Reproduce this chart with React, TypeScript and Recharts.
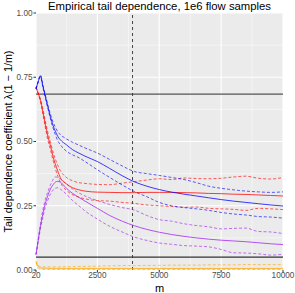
import React from 'react';
import {
  LineChart,
  Line,
  XAxis,
  YAxis,
  CartesianGrid,
  ReferenceLine,
  Label,
} from 'recharts';

// m values (sample size parameter)
const mValues = [20, 100, 200, 300, 400, 500, 600, 700, 800, 900, 1000, 1250, 1500, 1750, 2000, 2500, 3000, 3500, 4000, 4500, 5000, 5500, 6000, 6500, 7000, 7500, 8000, 8500, 9000, 9500, 10000];

const blueMid = [0.705, 0.73, 0.755, 0.715, 0.675, 0.635, 0.597, 0.565, 0.54, 0.52, 0.507, 0.487, 0.468, 0.455, 0.443, 0.422, 0.395, 0.367, 0.343, 0.326, 0.313, 0.303, 0.295, 0.288, 0.281, 0.274, 0.268, 0.263, 0.258, 0.253, 0.249];
const blueHi = [0.705, 0.733, 0.758, 0.72, 0.68, 0.642, 0.607, 0.578, 0.556, 0.538, 0.527, 0.51, 0.497, 0.486, 0.475, 0.455, 0.43, 0.405, 0.383, 0.375, 0.368, 0.36, 0.352, 0.34, 0.326, 0.318, 0.312, 0.307, 0.304, 0.302, 0.304];
const blueLo = [0.705, 0.727, 0.752, 0.71, 0.668, 0.628, 0.59, 0.555, 0.527, 0.503, 0.488, 0.462, 0.448, 0.437, 0.422, 0.39, 0.36, 0.331, 0.305, 0.285, 0.263, 0.25, 0.243, 0.238, 0.232, 0.224, 0.218, 0.214, 0.208, 0.206, 0.202];

const redMid = [0.711, 0.69, 0.66, 0.615, 0.565, 0.52, 0.485, 0.445, 0.412, 0.385, 0.36, 0.335, 0.32, 0.312, 0.307, 0.303, 0.302, 0.301, 0.301, 0.302, 0.302, 0.302, 0.301, 0.3, 0.298, 0.297, 0.295, 0.294, 0.292, 0.29, 0.288];
const redHi = [0.711, 0.692, 0.665, 0.625, 0.578, 0.535, 0.5, 0.462, 0.432, 0.407, 0.387, 0.36, 0.347, 0.34, 0.337, 0.333, 0.332, 0.338, 0.344, 0.35, 0.355, 0.352, 0.358, 0.356, 0.355, 0.357, 0.362, 0.365, 0.357, 0.354, 0.36];
const redLo = [0.711, 0.687, 0.655, 0.605, 0.553, 0.505, 0.47, 0.43, 0.395, 0.365, 0.342, 0.31, 0.293, 0.283, 0.277, 0.27, 0.268, 0.263, 0.259, 0.253, 0.25, 0.247, 0.244, 0.245, 0.24, 0.238, 0.236, 0.232, 0.24, 0.238, 0.235];

const purpleMid = [0.06, 0.11, 0.17, 0.22, 0.26, 0.29, 0.315, 0.33, 0.342, 0.345, 0.342, 0.318, 0.298, 0.283, 0.268, 0.24, 0.212, 0.19, 0.172, 0.158, 0.147, 0.138, 0.131, 0.125, 0.12, 0.116, 0.113, 0.11, 0.106, 0.102, 0.099];
const purpleHi = [0.06, 0.115, 0.18, 0.235, 0.275, 0.305, 0.33, 0.35, 0.362, 0.36, 0.355, 0.335, 0.315, 0.3, 0.288, 0.27, 0.255, 0.243, 0.233, 0.212, 0.196, 0.19, 0.18, 0.173, 0.168, 0.16, 0.162, 0.163, 0.15, 0.148, 0.142];
const purpleLo = [0.06, 0.105, 0.16, 0.205, 0.245, 0.272, 0.295, 0.31, 0.318, 0.32, 0.315, 0.295, 0.27, 0.25, 0.23, 0.198, 0.17, 0.148, 0.128, 0.115, 0.105, 0.1, 0.095, 0.093, 0.09, 0.08, 0.067, 0.066, 0.063, 0.058, 0.061];

const orangeMid = [0.032, 0.015, 0.008, 0.007, 0.007, 0.007, 0.006, 0.006, 0.006, 0.006, 0.006, 0.006, 0.006, 0.006, 0.006, 0.006, 0.006, 0.006, 0.006, 0.006, 0.006, 0.006, 0.006, 0.006, 0.006, 0.006, 0.006, 0.006, 0.006, 0.006, 0.006];
const orangeHi = [0.036, 0.02, 0.013, 0.012, 0.012, 0.012, 0.012, 0.012, 0.012, 0.012, 0.012, 0.013, 0.013, 0.014, 0.014, 0.015, 0.016, 0.017, 0.017, 0.018, 0.018, 0.019, 0.019, 0.019, 0.02, 0.02, 0.02, 0.021, 0.021, 0.021, 0.021];
const orangeLo = [0.028, 0.01, 0.003, 0.002, 0.002, 0.002, 0.002, 0.002, 0.002, 0.002, 0.002, 0.002, 0.002, 0.002, 0.002, 0.002, 0.002, 0.002, 0.002, 0.002, 0.002, 0.002, 0.002, 0.002, 0.002, 0.002, 0.002, 0.002, 0.002, 0.002, 0.002];

const xTicks = [20, 2500, 5000, 7500, 10000];
const xMinor = [1260, 3750, 6250, 8750];
const yTicks = [0, 0.25, 0.5, 0.75, 1];
const yMinor = [0.125, 0.375, 0.625, 0.875];

const upperRef = 0.684;
const lowerRef = 0.05;
const mCut = 3920;

const data = mValues.map((m, i) => ({
  m,
  blueMid: blueMid[i], blueHi: blueHi[i], blueLo: blueLo[i],
  redMid: redMid[i], redHi: redHi[i], redLo: redLo[i],
  purpleMid: purpleMid[i], purpleHi: purpleHi[i], purpleLo: purpleLo[i],
  orangeMid: orangeMid[i], orangeHi: orangeHi[i], orangeLo: orangeLo[i],
}));

const groups = [
  { key: 'orange', color: '#FFA500' },
  { key: 'purple', color: '#A020F0' },
  { key: 'red', color: '#FF0000' },
  { key: 'blue', color: '#0000FF' },
];

const font = '"Liberation Sans", Arial, Helvetica, sans-serif';

export default function App() {
  return (
    <div style={{ position: 'absolute', left: 0, top: 0, width: 295, height: 293, background: '#fff', fontFamily: font }}>
      <div style={{ position: 'absolute', left: 36, width: 247, top: 0, textAlign: 'center', fontSize: 11.3, lineHeight: '13px', color: '#000' }}>
        Empirical tail dependence, 1e6 flow samples
      </div>
      <LineChart width={295} height={293} data={data} margin={{ top: 13, right: 12, left: 14, bottom: 0 }}>
        <CartesianGrid
          fill="#EBEBEB"
          stroke="#FFFFFF"
          strokeWidth={0.5}
          horizontalValues={yMinor}
          verticalValues={xMinor}
        />
        <CartesianGrid
          stroke="#FFFFFF"
          strokeWidth={1.1}
          horizontalValues={yTicks}
          verticalValues={xTicks}
        />
        <XAxis
          dataKey="m"
          type="number"
          domain={[20, 10000]}
          ticks={xTicks}
          interval={0}
          height={23}
          axisLine={false}
          tickSize={2.5}
          tickMargin={0}
          tickLine={{ stroke: '#333333' }}
          tick={{ fill: '#4D4D4D', fontSize: 8.2, fontFamily: font }}
        >
          <Label
            content={() => (
              <text x={159.5} y={291.5} textAnchor="middle" fontSize={11} fontFamily={font} fill="#000">m</text>
            )}
          />
        </XAxis>
        <YAxis
          type="number"
          domain={[0, 1]}
          ticks={yTicks}
          interval={0}
          width={22}
          axisLine={false}
          tickSize={2.5}
          tickMargin={1}
          tickLine={{ stroke: '#333333' }}
          tick={{ fill: '#4D4D4D', fontSize: 8.2, fontFamily: font }}
          tickFormatter={(v: number) => v.toFixed(2)}
        >
          <Label
            content={() => (
              <text x={0} y={0} transform="translate(11.5,141.5) rotate(-90)" textAnchor="middle" fontSize={10.8} fontFamily={font} fill="#000">
                Tail dependence coefficient λ(1 − 1/m)
              </text>
            )}
          />
        </YAxis>
        <ReferenceLine y={upperRef} stroke="#555555" strokeWidth={1.3} />
        <ReferenceLine y={lowerRef} stroke="#333333" strokeWidth={1.1} />
        <ReferenceLine x={mCut} stroke="#333333" strokeWidth={0.9} strokeDasharray="3 3" />
        {groups.flatMap((g) => [
          <Line key={g.key + 'Hi'} type="monotone" dataKey={g.key + 'Hi'} stroke={g.color} strokeOpacity={0.7} strokeWidth={0.9} strokeDasharray="3 2" dot={false} isAnimationActive={false} />,
          <Line key={g.key + 'Lo'} type="monotone" dataKey={g.key + 'Lo'} stroke={g.color} strokeOpacity={0.7} strokeWidth={0.9} strokeDasharray="3 2" dot={false} isAnimationActive={false} />,
          <Line key={g.key + 'Mid'} type="monotone" dataKey={g.key + 'Mid'} stroke={g.color} strokeOpacity={0.85} strokeWidth={0.9} dot={false} isAnimationActive={false} />,
        ])}
      </LineChart>
    </div>
  );
}
